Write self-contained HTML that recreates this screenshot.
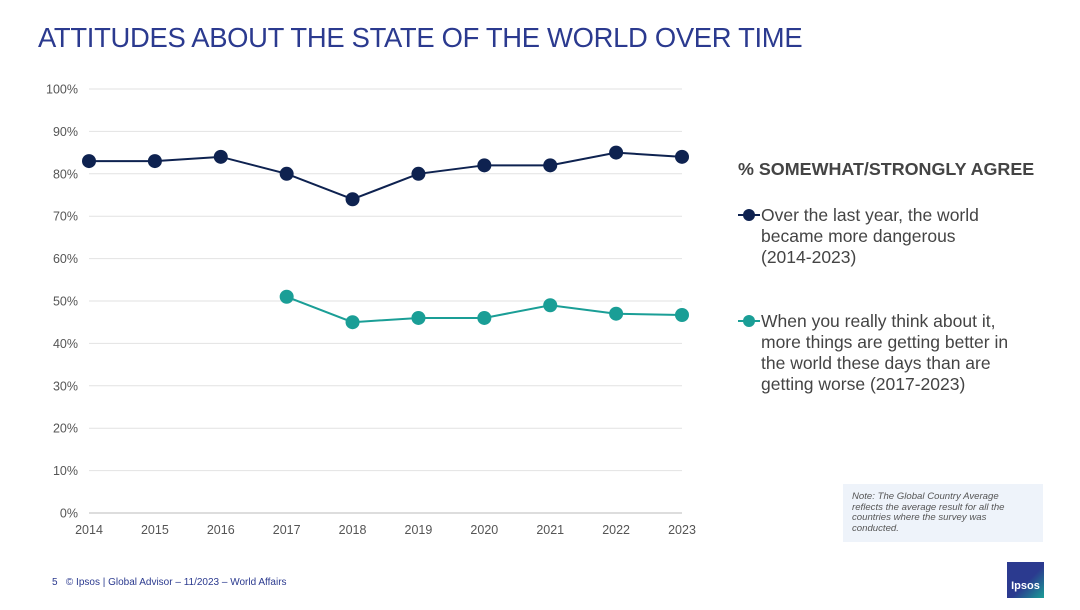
<!DOCTYPE html>
<html><head><meta charset="utf-8"><style>
body{margin:0;width:1080px;height:608px;background:#fff;font-family:"Liberation Sans",sans-serif;position:relative;overflow:hidden}
.abs{position:absolute}
</style></head><body>
<div class="abs" style="left:38px;top:22px;font-size:27.4px;color:#2b3a8f;letter-spacing:-0.3px">ATTITUDES ABOUT THE STATE OF THE WORLD OVER TIME</div>
<svg class="abs" style="left:0;top:0" width="1080" height="608" id="chart"></svg>
<div class="abs" style="left:738px;top:159px;font-size:17.9px;font-weight:bold;color:#444">% SOMEWHAT/STRONGLY AGREE</div>
<div class="abs" style="left:761px;top:205px;font-size:17.5px;line-height:21px;color:#444;white-space:nowrap">Over the last year, the world<br>became more dangerous<br>(2014-2023)</div>
<div class="abs" style="left:761px;top:311px;font-size:17.5px;line-height:21px;color:#444;white-space:nowrap">When you really think about it,<br>more things are getting better in<br>the world these days than are<br>getting worse (2017-2023)</div>
<div class="abs" style="left:843px;top:484px;width:200px;height:58px;background:#eef3fa;padding:8px 4px 0 9px;box-sizing:border-box;font-size:9.6px;line-height:10.5px;font-style:italic;color:#555;white-space:nowrap">Note: The Global Country Average<br>reflects the average result for all the<br>countries where the survey was<br>conducted.</div>
<div class="abs" style="left:52px;top:577px;font-size:10px;color:#2b3a8f">5 &nbsp; © Ipsos | Global Advisor – 11/2023 – World Affairs</div>
<div class="abs" style="left:1007px;top:562px;width:37px;height:36px;background:linear-gradient(135deg,#2b3a8f 55%,#1a9e96);color:#fff;font-size:11px;font-weight:bold;text-align:center;line-height:48px">Ipsos</div>
<script>
const years=["2014","2015","2016","2017","2018","2019","2020","2021","2022","2023"];
const dangerous=[83,83,84,80,74,80,82,82,85,84];
const better=[null,null,null,51,45,46,46,49,47,46.7];
const yTicks=[0,10,20,30,40,50,60,70,80,90,100];
const NS="http://www.w3.org/2000/svg";
const svg=document.getElementById('chart');
const x=i=>89+i*(682-89)/(years.length-1);
const y=v=>513-v*4.24;
function mk(t,a){const e=document.createElementNS(NS,t);for(const k in a)e.setAttribute(k,a[k]);svg.appendChild(e);return e;}
yTicks.forEach(t=>{
 const l=mk('line',{x1:89,x2:682,y1:y(t),y2:y(t),stroke:t===0?'#bbb':'#e2e2e2','stroke-width':1});
 
 
 const tx=mk('text',{x:78,y:y(t)+4.5,'text-anchor':'end','font-size':12.5,fill:'#555','font-family':'Liberation Sans'});
 tx.textContent=t+'%';
 
 
});
years.forEach((yr,i)=>{
 const tx=mk('text',{x:x(i),y:534,'text-anchor':'middle','font-size':12.5,fill:'#555','font-family':'Liberation Sans'});
 tx.textContent=yr;
 
 
});
function series(vals,color,name){
 const pts=[];vals.forEach((v,i)=>{if(v!==null)pts.push([x(i),y(v)]);});
 const p=mk('polyline',{points:pts.map(p=>p.join(',')).join(' '),fill:'none',stroke:color,'stroke-width':2});
 
 
 pts.forEach(q=>{const c=mk('circle',{cx:q[0],cy:q[1],r:7,fill:color});
 
 });
}
series(dangerous,'#0e2250','dangerous');
series(better,'#1a9e96','better');
function legendMark(cy,color,name){
 const l=mk('line',{x1:738,x2:760,y1:cy,y2:cy,stroke:color,'stroke-width':2});
 
 
 const c=mk('circle',{cx:749,cy:cy,r:6,fill:color});
 
 
}
legendMark(215,'#0e2250','dangerous');
legendMark(321,'#1a9e96','better');
</script>
</body></html>
